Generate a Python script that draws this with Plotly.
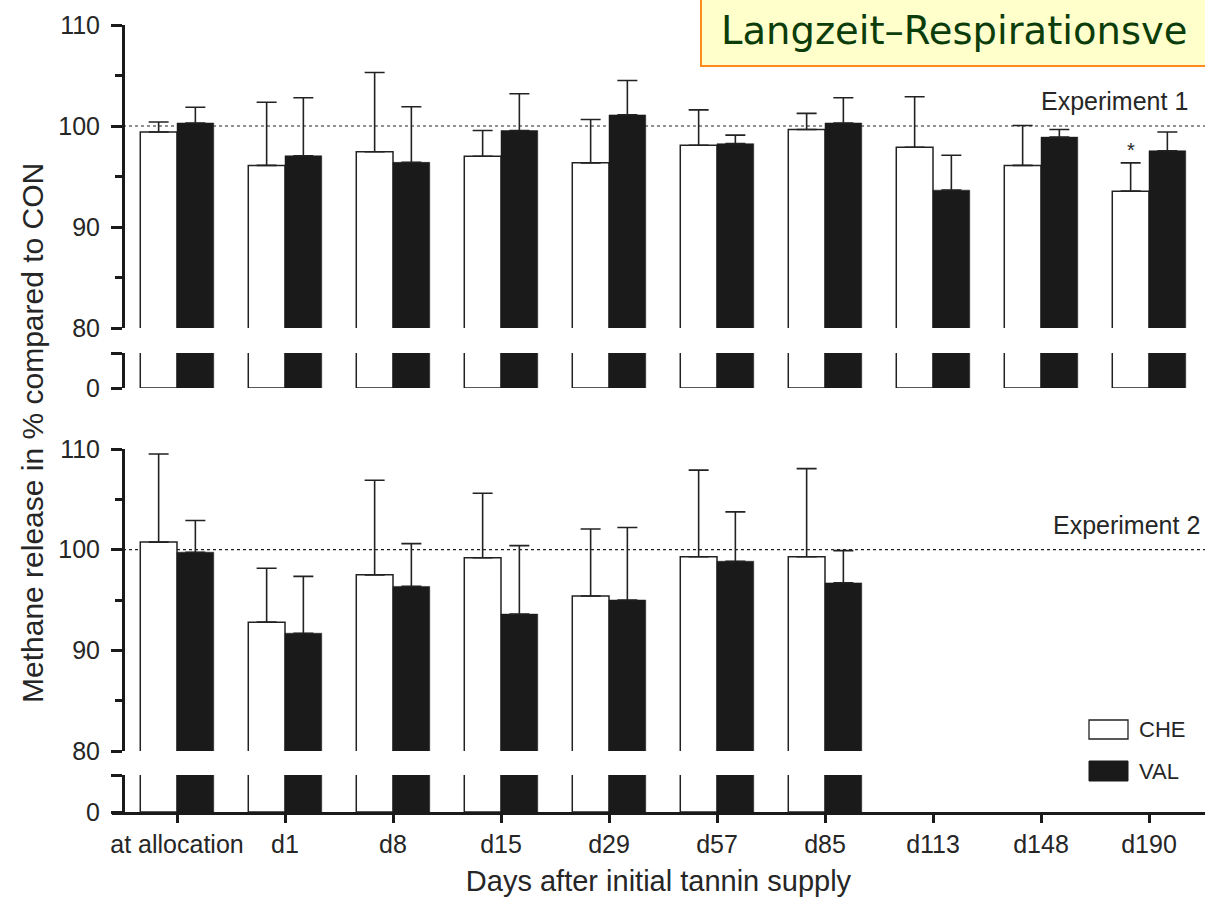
import plotly.graph_objects as go

# ---------------- data ----------------
categories = ["at allocation", "d1", "d8", "d15", "d29", "d57", "d85", "d113", "d148", "d190"]

# Experiment 1
exp1_che = [99.4, 96.1, 97.45, 97.0, 96.35, 98.1, 99.65, 97.9, 96.1, 93.55]
exp1_che_sd = [1.0, 6.25, 7.85, 2.55, 4.3, 3.5, 1.6, 5.0, 3.95, 2.8]
exp1_val = [100.3, 97.05, 96.4, 99.55, 101.1, 98.25, 100.3, 93.65, 98.9, 97.55]
exp1_val_sd = [1.55, 5.75, 5.5, 3.65, 3.4, 0.85, 2.5, 3.45, 0.75, 1.85]

# Experiment 2
exp2_che = [100.75, 92.8, 97.5, 99.2, 95.4, 99.3, 99.3, None, None, None]
exp2_che_sd = [8.75, 5.35, 9.4, 6.4, 6.65, 8.6, 8.75, None, None, None]
exp2_val = [99.75, 91.7, 96.35, 93.6, 95.0, 98.85, 96.7, None, None, None]
exp2_val_sd = [3.15, 5.65, 4.25, 6.8, 7.2, 4.9, 3.2, None, None, None]

series_names = ["CHE", "VAL"]
panel_labels = ["Experiment 1", "Experiment 2"]
title_text = "Langzeit–Respirationsve"

# ---------------- geometry helpers ----------------
W, H = 1205, 898
ML, MB = 112, 86
PW, PH = W - ML, H - MB  # paper area in px


def px(xp):
    return (xp - ML) / PW


def py(yp):
    return (PH - yp) / PH


FONT = "Liberation Sans, Arial, sans-serif"
TXT = "#262626"
BW = 0.34

fig = go.Figure()

panels = [
    ("y", "y2", exp1_che, exp1_che_sd, exp1_val, exp1_val_sd),
    ("y3", "y4", exp2_che, exp2_che_sd, exp2_val, exp2_val_sd),
]

for up, low, che, che_sd, val, val_sd in panels:
    for ax, with_err in ((up, True), (low, False)):
        kw_c = {}
        kw_v = {}
        if with_err:
            kw_c["error_y"] = dict(type="data", array=che_sd, arrayminus=[0] * len(che),
                                   symmetric=False, color="#222", thickness=1.6, width=10)
            kw_v["error_y"] = dict(type="data", array=val_sd, arrayminus=[0] * len(val),
                                   symmetric=False, color="#222", thickness=1.6, width=10)
        fig.add_trace(go.Bar(x=categories, y=che, width=BW, offset=-BW, name=series_names[0],
                             marker=dict(color="white", line=dict(color="#222", width=1.5)),
                             xaxis="x", yaxis=ax, showlegend=False, **kw_c))
        fig.add_trace(go.Bar(x=categories, y=val, width=BW, offset=0, name=series_names[1],
                             marker=dict(color="#1a1a1a", line=dict(color="#1a1a1a", width=0.5)),
                             xaxis="x", yaxis=ax, showlegend=False, **kw_v))

yax_pos = px(123)

common_y = dict(anchor="free", position=yax_pos, showline=True, linewidth=3, linecolor="#1a1a1a",
                ticks="outside", ticklen=11, tickwidth=3, tickcolor="#1a1a1a",
                showgrid=False, zeroline=False, ticklabelstandoff=6, automargin=False,
                tickfont=dict(family=FONT, size=25, color=TXT))

upper_minor = dict(tickvals=[85, 95, 105], ticks="outside", ticklen=7, tickwidth=3, tickcolor="#1a1a1a")

fig.update_layout(
    width=W, height=H,
    margin=dict(l=ML, r=0, t=0, b=MB, autoexpand=False),
    paper_bgcolor="white", plot_bgcolor="rgba(0,0,0,0)",
    barmode="overlay",
    showlegend=False,
    xaxis=dict(type="category", range=[-(177 - ML) / 108, 9 + (W - 1149) / 108], domain=[0, 1],
               anchor="y4", showline=True, linewidth=3, linecolor="#1a1a1a", automargin=False,
               ticks="outside", ticklen=8, tickwidth=3, tickcolor="#1a1a1a",
               tickfont=dict(family=FONT, size=25, color=TXT), showgrid=False, zeroline=False,
               title=dict(text="Days after initial tannin supply", standoff=14,
                          font=dict(family=FONT, size=29, color=TXT))),
    yaxis=dict(domain=[py(328), py(25)], range=[80, 110], tickvals=[80, 90, 100, 110],
               minor=upper_minor, **common_y),
    yaxis2=dict(domain=[py(388), py(353)], range=[0, 10], tickvals=[0, 10], ticktext=["0", ""],
                **common_y),
    yaxis3=dict(domain=[py(751), py(449)], range=[80, 110], tickvals=[80, 90, 100, 110],
                minor=upper_minor, **common_y),
    yaxis4=dict(domain=[py(812), py(775)], range=[0, 10], tickvals=[0, 10], ticktext=["0", ""],
                **common_y),
)

# dotted reference lines at 100
for ax in ("y", "y3"):
    fig.add_shape(type="line", xref="paper", yref=ax, x0=yax_pos, x1=1.0, y0=100, y1=100,
                  line=dict(color="#222", width=1.2, dash="dot"), layer="below")

# panel labels
fig.add_annotation(text=panel_labels[0], xref="paper", yref="y", x=px(1190), y=102.5,
                   xanchor="right", yanchor="middle", showarrow=False,
                   font=dict(family=FONT, size=25, color=TXT))
fig.add_annotation(text=panel_labels[1], xref="paper", yref="y3", x=px(1202), y=102.5,
                   xanchor="right", yanchor="middle", showarrow=False,
                   font=dict(family=FONT, size=25, color=TXT))

# significance asterisk (d190, CHE, Exp. 1)
fig.add_annotation(text="*", xref="x", yref="y", x=categories[9], xshift=-BW / 2 * 108,
                   y=exp1_che[9] + exp1_che_sd[9], yanchor="bottom", yshift=0, showarrow=False,
                   font=dict(family=FONT, size=20, color=TXT))

# y-axis title
fig.add_annotation(text="Methane release in % compared to CON", xref="paper", yref="paper",
                   x=px(32), y=py(433), textangle=-90, showarrow=False,
                   xanchor="center", yanchor="middle",
                   font=dict(family=FONT, size=30, color=TXT))

# legend (manual)
fig.add_shape(type="rect", xref="paper", yref="paper", x0=px(1089), x1=px(1128), y0=py(739), y1=py(720),
              line=dict(color="#222", width=1.3), fillcolor="white")
fig.add_shape(type="rect", xref="paper", yref="paper", x0=px(1089), x1=px(1128), y0=py(781), y1=py(761),
              line=dict(color="#1a1a1a", width=1), fillcolor="#1a1a1a")
fig.add_annotation(text=series_names[0], xref="paper", yref="paper", x=px(1137), y=py(729),
                   xanchor="left", yanchor="middle", showarrow=False,
                   font=dict(family=FONT, size=22, color=TXT))
fig.add_annotation(text=series_names[1], xref="paper", yref="paper", x=px(1137), y=py(771),
                   xanchor="left", yanchor="middle", showarrow=False,
                   font=dict(family=FONT, size=22, color=TXT))

# title box (runs off the right edge, as in the reference)
fig.add_shape(type="rect", xref="paper", yref="paper", x0=px(701), x1=px(1240), y0=py(66), y1=py(-10),
              line=dict(color="#FF8A1E", width=2), fillcolor="#FFFFCC", layer="above")
fig.add_annotation(text=title_text, xref="paper", yref="paper", x=px(719), y=py(30),
                   xanchor="left", yanchor="middle", showarrow=False,
                   font=dict(family="DejaVu Sans, Verdana, sans-serif", size=38.5, color="#0B3D0B"))

fig.write_html("out.html")
